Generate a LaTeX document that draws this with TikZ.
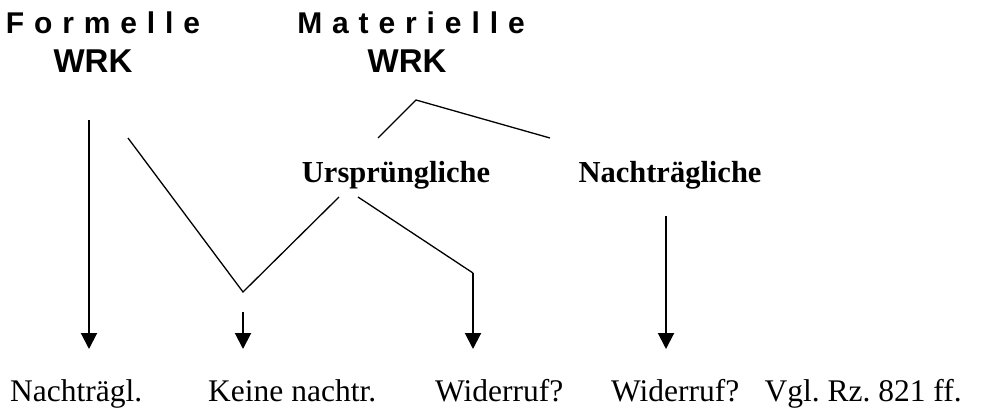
\documentclass[tikz,border=0pt]{standalone}
\usepackage{fontspec}
\setmainfont{Liberation Serif}
\newfontfamily\headfont[LetterSpace=33]{Liberation Sans}
\newfontfamily\wrkfont{Liberation Sans}
\frenchspacing
\usetikzlibrary{arrows.meta}
\tikzstyle{head} = [font=\headfont\bfseries\fontsize{30}{36}\selectfont, inner sep=0pt, anchor=base]
\tikzstyle{wrk} = [font=\wrkfont\bfseries\fontsize{33}{40}\selectfont, inner sep=0pt, anchor=base]
\tikzstyle{kind} = [font=\bfseries\fontsize{30.5}{36}\selectfont, inner sep=0pt, anchor=base]
\tikzstyle{result} = [font=\fontsize{31.5}{37}\selectfont, inner sep=0pt, anchor=base west]
\tikzstyle{branch} = [line width=1.3pt, line join=miter]
\tikzstyle{arrow} = [line width=2pt, -{Triangle[width=16pt,length=16pt]}]

\begin{document}
\begin{tikzpicture}[x=1pt,y=-1pt]
\useasboundingbox (0,0) rectangle (981,407);

\node (formell) [head] at (103,33) {Formelle};
\node (formwrk) [wrk] at (93,72) {WRK};
\node (materiell) [head] at (411,33) {Materielle};
\node (matwrk) [wrk] at (407,72) {WRK};

\node (urspr) [kind] at (396,182) {Ursprüngliche};
\node (nachtr) [kind] at (670,182) {Nachträgliche};

\node (res1) [result] at (10,401) {Nachträgl.};
\node (res2) [result] at (208,401) {Keine nachtr.};
\node (res3) [result] at (435,401) {Widerruf?};
\node (res4) [result] at (611,401) {Widerruf?\hspace{0.8em}Vgl. Rz. 821 ff.};

% branch points
\coordinate (fstart) at (89,120);
\coordinate (f1end) at (89,349);
\coordinate (vleft) at (128,138);
\coordinate (vbottom) at (243,292);
\coordinate (vright) at (339,197);
\coordinate (k1start) at (243,312);
\coordinate (k1end) at (243,349);
\coordinate (mleft) at (378,138);
\coordinate (mtop) at (416,100);
\coordinate (mright) at (550,138);
\coordinate (ustart) at (358,197);
\coordinate (ubend) at (473,273);
\coordinate (u1end) at (473,349);
\coordinate (nstart) at (666,216);
\coordinate (n1end) at (666,349);

\draw [arrow] (fstart) -- (f1end);
\draw [branch] (vleft) -- (vbottom) -- (vright);
\draw [arrow] (k1start) -- (k1end);
\draw [branch] (mleft) -- (mtop) -- (mright);
\draw [branch] (ustart) -- (ubend);
\draw [arrow] (ubend) -- (u1end);
\draw [arrow] (nstart) -- (n1end);

\end{tikzpicture}
\end{document}
